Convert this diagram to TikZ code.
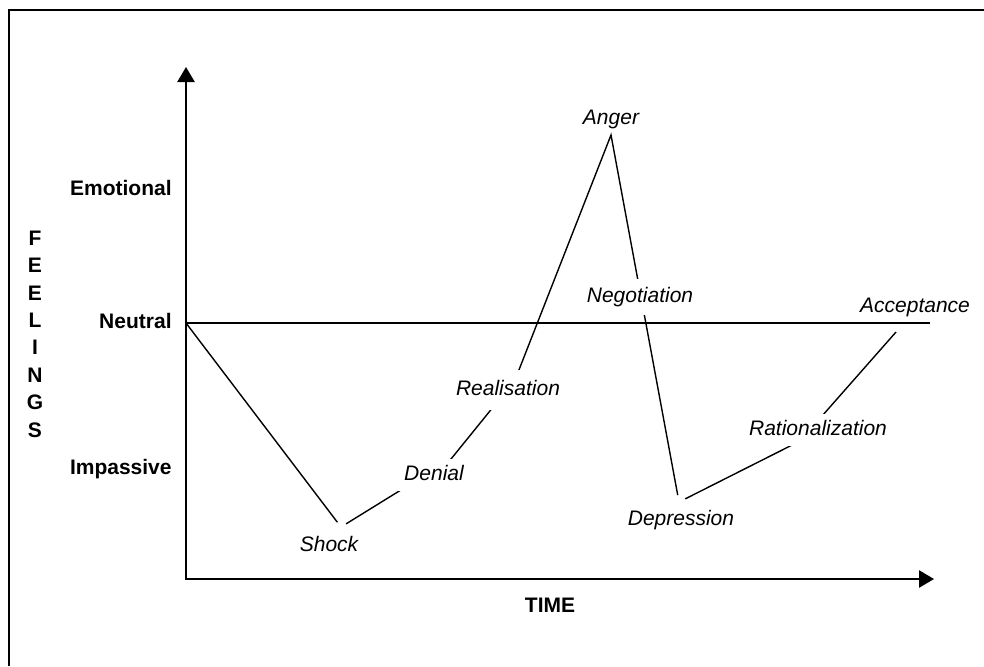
\documentclass[tikz,border=0pt]{standalone}
\usepackage{fontspec}
\setmainfont{Liberation Sans}
\usetikzlibrary{arrows.meta}
\tikzset{
  stagelabel/.style={
    font=\fontsize{10.5}{12}\selectfont\itshape,
    text height=7.6pt,
    text depth=2.2pt,
    inner sep=2pt
  },
  stagemask/.style={
    stagelabel,
    fill=white,
    inner xsep=4pt,
    inner ysep=3pt
  },
  levellabel/.style={
    font=\fontsize{10.5}{12}\selectfont\bfseries,
    anchor=base east,
    inner sep=0pt
  },
  axistitle/.style={
    font=\fontsize{10.5}{13.7}\selectfont\bfseries,
    align=center,
    inner sep=0pt
  },
  axisline/.style={
    line width=0.9pt,
    {Triangle[length=7.5pt,width=8.6pt]}-{Triangle[length=7.5pt,width=8.6pt]}
  },
  emoline/.style={
    line width=0.7pt
  }
}

\begin{document}
\begin{tikzpicture}[x=0.5pt,y=-0.5pt]
\useasboundingbox (0,0) rectangle (984,666);
\coordinate (fa) at (9,666);
\coordinate (fb) at (9,10);
\coordinate (fc) at (984,10);
\draw[line width=0.9pt] (fa) -- (fb) -- (fc);

\coordinate (ytop) at (186,67);
\coordinate (xend) at (934,579);
\draw[axisline] (ytop) |- (xend);

\coordinate (neu) at (186,323);
\coordinate (neuend) at (930,323);
\draw[emoline] (neu) -- (neuend);

\coordinate (shockv) at (341,527);
\coordinate (denialv) at (451,459);
\coordinate (realv) at (515,380);
\coordinate (angerv) at (611,135);
\coordinate (deprv) at (679,502);
\coordinate (ratv) at (800,441);
\coordinate (accv) at (896,332);
\draw[emoline, shorten >=3pt] (neu) -- (shockv);
\draw[emoline, shorten <=3pt, shorten >=3.5pt] (shockv) -- (denialv) -- (realv)
  -- (angerv) -- (deprv);
\draw[emoline, shorten <=3.5pt] (deprv) -- (ratv) -- (accv);

\node[levellabel] (emo) at (172,195) {Emotional};
\node[levellabel] (neut) at (172,328) {Neutral};
\node[levellabel] (imp) at (172,474) {Impassive};
\node[axistitle] (feel) at (35,334) {F\\E\\E\\L\\I\\N\\G\\S};
\node[axistitle] (time) at (550,605) {TIME};

\node[stagelabel] (shock) at (329,546) {Shock};
\node[stagemask] (denial) at (434,475) {Denial};
\node[stagemask, inner ysep=5pt] (real) at (508,390) {Realisation};
\node[stagelabel] (anger) at (611,119) {Anger};
\node[stagemask, inner ysep=4pt] (nego) at (640,297) {Negotiation};
\node[stagelabel] (depr) at (681,520) {Depression};
\node[stagemask] (rat) at (818,430) {Rationalization};
\node[stagelabel] (acc) at (915,307) {Acceptance};
\end{tikzpicture}
\end{document}
